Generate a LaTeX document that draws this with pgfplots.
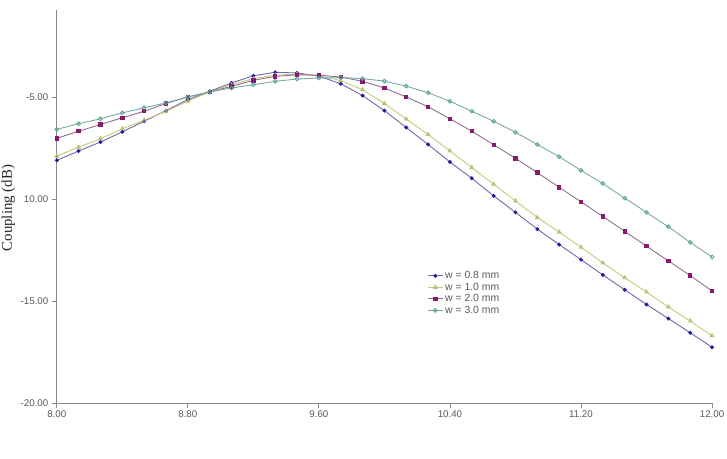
\documentclass[border=0pt]{standalone}
\usepackage{fontspec}
\setmainfont{Liberation Sans}
\newfontfamily\seriffont{Liberation Serif}
\usepackage{pgfplots}
\pgfplotsset{compat=1.18}
\usepackage{pgfplotstable}
\definecolor{bluemk}{HTML}{1E1E9E}
\definecolor{blueln}{HTML}{6A6AA8}
\definecolor{yelmk}{HTML}{B8B870}
\definecolor{yelln}{HTML}{C8C87A}
\definecolor{purmk}{HTML}{8A1A6E}
\definecolor{purln}{HTML}{8E6E8E}
\definecolor{tealmk}{HTML}{5AA898}
\definecolor{tealln}{HTML}{78AAA2}
\definecolor{axgray}{HTML}{8A8A8A}
\definecolor{lblgray}{HTML}{5A5A5A}

\pgfplotstableread{
x a b c d
8.0000 -8.08 -7.87 -7.00 -6.56
8.1333 -7.62 -7.43 -6.65 -6.28
8.2667 -7.18 -7.02 -6.32 -6.04
8.4000 -6.68 -6.53 -5.99 -5.75
8.5333 -6.16 -6.11 -5.67 -5.50
8.6667 -5.64 -5.67 -5.29 -5.26
8.8000 -5.10 -5.18 -4.97 -4.97
8.9333 -4.69 -4.72 -4.72 -4.72
9.0667 -4.28 -4.37 -4.45 -4.53
9.2000 -3.93 -4.07 -4.15 -4.37
9.3333 -3.76 -3.90 -3.96 -4.20
9.4667 -3.79 -3.85 -3.88 -4.09
9.6000 -3.95 -3.93 -3.90 -4.04
9.7333 -4.32 -4.17 -3.99 -4.02
9.8667 -4.90 -4.61 -4.20 -4.07
10.0000 -5.64 -5.29 -4.53 -4.19
10.1333 -6.47 -6.05 -4.97 -4.44
10.2667 -7.30 -6.81 -5.45 -4.76
10.4000 -8.16 -7.62 -6.04 -5.18
10.5333 -8.96 -8.43 -6.65 -5.67
10.6667 -9.82 -9.25 -7.31 -6.16
10.8000 -10.63 -10.07 -7.98 -6.70
10.9333 -11.45 -10.88 -8.68 -7.30
11.0667 -12.21 -11.60 -9.40 -7.90
11.2000 -12.95 -12.34 -10.11 -8.57
11.3333 -13.70 -13.11 -10.83 -9.22
11.4667 -14.43 -13.84 -11.56 -9.93
11.6000 -15.15 -14.54 -12.29 -10.63
11.7333 -15.84 -15.27 -13.01 -11.34
11.8667 -16.54 -15.96 -13.73 -12.10
12.0000 -17.25 -16.68 -14.49 -12.82
}\data

\begin{document}
\begin{tikzpicture}[x=1bp,y=1bp]
\begin{axis}[
  at={(57bp,55bp)}, anchor=south west,
  scale only axis, width=658bp, height=395bp,
  xmin=8, xmax=12, ymin=-20, ymax=-0.7,
  axis x line*=bottom, axis y line*=left,
  axis line style={axgray, line width=1.3pt},
  xtick={8,8.8,9.6,10.4,11.2,12},
  xticklabels={8.00,8.80,9.60,10.40,11.20,12.00},
  ytick={-20,-15,-10,-5},
  yticklabels={-20.00,-15.00,10.00,-5.00},
  tick align=outside,
  major tick length=5bp,
  tick style={axgray, line width=0.8pt},
  ticklabel style={font=\fontsize{9.8}{11}\selectfont, text=lblgray},
  xticklabel style={yshift=1bp},
  legend style={draw=none, fill=none, at={(0.561,0.346)}, anchor=north west,
    font=\fontsize{10.5}{11}\selectfont, text=lblgray, row sep=-1.2pt,
    cells={anchor=west}},
  legend image code/.code={
    \draw[mark repeat=2,mark phase=2] plot coordinates {(0cm,0cm) (0.26cm,0cm) (0.52cm,0cm)};},
]
\addplot[blueln, line width=0.9pt, mark=*, mark size=1.5pt,
  mark options={draw=bluemk, fill=bluemk}] table[x=x,y=a]{\data};
\addlegendentry{w = 0.8 mm}
\addplot[yelln, line width=0.9pt, mark=triangle, mark size=2pt,
  mark options={draw=yelmk, fill=white}] table[x=x,y=b]{\data};
\addlegendentry{w = 1.0 mm}
\addplot[purln, line width=0.9pt, mark=square*, mark size=1.7pt,
  mark options={draw=purmk, fill=purmk}] table[x=x,y=c]{\data};
\addlegendentry{w = 2.0 mm}
\addplot[tealln, line width=0.9pt, mark=o, mark size=1.9pt,
  mark options={draw=tealmk, fill=white}] table[x=x,y=d]{\data};
\addlegendentry{w = 3.0 mm}
\end{axis}
\node[rotate=90, anchor=base, inner sep=0pt, font=\seriffont\fontsize{15}{17}\selectfont, text=black!85]
  at (12bp,251bp) {Coupling (dB)};
\pgfresetboundingbox
\useasboundingbox (0,0) rectangle (730bp,460bp);
\end{tikzpicture}
\end{document}
